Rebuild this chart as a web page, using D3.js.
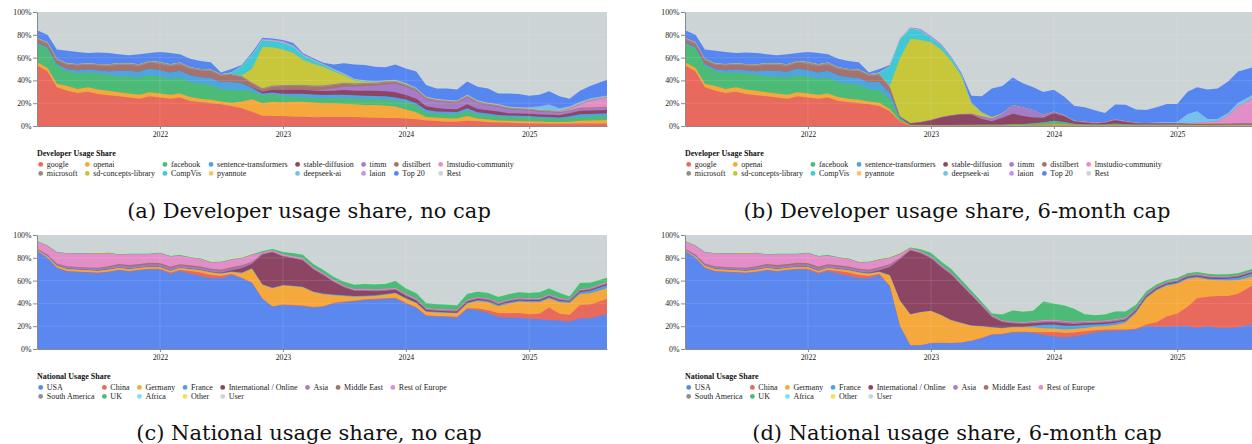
<!DOCTYPE html>
<html>
<head>
<meta charset="utf-8">
<script src="https://cdn.jsdelivr.net/npm/d3@7"></script>
<style>
  body { margin: 0; background: #fff; overflow: hidden; }
  svg { display: block; }
</style>
</head>
<body>
<svg id="fig"></svg>
<script>
const W = 1252, H = 444;
const plotW = 570, plotH = 114;

// monthly points, Jan 2021 .. Jul 2025, plus the last (partial) month
const months = d3.timeMonth.range(new Date(2021, 0, 1), new Date(2025, 7, 1));
months.push(new Date(2025, 7, 20));

const yearTicks = [2022, 2023, 2024, 2025];
const pctTicks = [0, 20, 40, 60, 80, 100];

// ---- developer series ----
const devKeys = ['google', 'openai', 'facebook', 'sentence-transformers', 'stable-diffusion', 'timm',
  'distilbert', 'lmstudio-community', 'microsoft', 'sd-concepts-library', 'CompVis', 'pyannote',
  'deepseek-ai', 'laion', 'Top 20'];
const devColors = ['#e8695e', '#f5a83c', '#4dbb78', '#4fa3df', '#8c4563', '#a57cc9',
  '#a5736b', '#e48ec9', '#8f8f8f', '#c8c73c', '#40c8d6', '#f6c46c',
  '#74c0ee', '#c990f2', '#5686ef'];
const devRest = 'Rest', restColor = '#cdd4d6';

// (a) developer usage share, no cap (percent)
const aGoogle = [53,48,34,31,29,30,28,27,26,25, 24,26,25,24,25,22,21,20,19,17.5, 15.5,12.5,9,8.8,8.8,8.2,8.2,7.6,8,8, 8,7.8,7.5,7.2,7,7,6.5,6,4.8,4.3, 3.8,3.8,4.5,4.2,3.3,3,2.8,2.5,2.3,2.2, 2,2,2,2.3,2.3,2.3];
const aOpenai = [3,3,3,4,3.5,4,4,4,3.5,3.5, 3.5,3.5,3.5,3.5,3.5,3.5,3,3,2.5,3, 6,11,11,12.5,12,13,13,13,12,11.9, 11.5,11.2,11,11.2,11,10,8,6,3.2,2.9, 2.9,2.7,4.3,2.3,2.5,1.8,1.7,1.8,1.8,1.7, 1.6,1.5,1.8,2.2,2.5,3];
const aFacebook = [16,17,16,13,14,13,14,14,14,15, 15,15,15,14,14,13,13,13,11,11, 10,7,7,6.5,5.5,4.5,4,4,4.2,4.5, 5,5,5,5,5,5,6.5,6,4,3.5, 3.8,3.8,4.5,3.5,3.5,3.5,3.3,3.3,3.3,3, 3,2.8,3,3.5,3.5,3.5];
const aSentence = [1,1,1.5,2,2.5,2.5,3,3,5,5, 5,6,5.5,5.5,6,6,6,6,6,7, 6,3,1.5,1.5,2,2.5,3,3,3,3, 3,3,3,3,3,3,2.3,2,2.3,2, 2,2,2.2,2,1.6,1.4,1.4,1.4,1.3,1.2, 1.2,1.2,1.8,2.3,2.3,2.3];
const aStable = [0,0,0,0,0,0,0,0,0,0, 0,0,0,0,0,0,0,0,0,0, .2,.5,1.5,2.5,3.5,3.5,3.5,3.5,3.5,3.5, 4,4,4.5,4.5,4.5,4.5,4,4,3,3, 2.5,2.5,3.5,3,3,3,2,2,2,2, 2,2,2.5,3,3,3];
const aTimm = [.2,.2,.2,.2,.2,.2,.2,.2,.2,.2, .2,.2,.2,.2,.2,.2,.2,.2,.2,.2, .2,.2,.2,.2,.2,.3,.4,.5,1,2, 3,3.5,4,4.5,6,7.5,7,6.5,6,5.5, 5.5,5,6,5,4,4,3.5,3,3,2.5, 2.5,2,2,2,2,2];
const aDistilbert = [3,3,3,3.5,4,4,4,4.5,5,5, 5,5,5.5,5.5,5.5,5.5,5.5,6,5.5,6, 5,3,2,2.5,3,3,3,3,3,3, 2.5,2,1.8,1.5,1.5,1.3,1.2,1,.8,.8, .8,.8,.8,.8,.8,.8,.7,.7,.7,.6, .6,.6,.6,.6,.6,.6];
const aLmstudio = [0,0,0,0,0,0,0,0,0,0, 0,0,0,0,0,0,0,0,0,0, 0,0,0,0,0,0,0,0,0,0, 0,0,0,0,0,0,0,0,0,0, 0,0,0,0,0,0,0,0,0,0, 0,.3,1,3,6,8];
const aMicrosoft = [1,1,1,1,1,1,1,1.2,1.2,1.2, 1.2,1.2,1.2,1.2,1.2,1.2,1.2,1.2,1,1, 1,1,1,1,1,1,1,1,1,1, 1,1,1,1,1,1,1,1,.8,.8, .8,.8,.8,.8,.8,.7,.7,.7,.6,.6, .6,.6,.6,.6,.6,.6];
const aSdConcepts = [0,0,0,0,0,0,0,0,0,0, 0,0,0,0,0,0,0,0,0,0, .5,12,36,33.5,31,28,22,19,16,11, 6.5,2.5,1,.3,0,0,0,0,0,0, 0,0,0,0,0,0,0,0,0,0, 0,0,0,0,0,0];
const aCompVis = [0,0,0,0,0,0,0,0,0,0, 0,0,0,0,0,0,0,0,0,1, 8,12,6,5.5,6,5.5,4,3,2,1.5, 1,.8,.6,.5,.5,.5,.5,.3,.3,.3, .3,.3,.3,.3,.3,.3,.3,.3,.3,.3, .3,.3,.3,.3,.3,.3];
const aPyannote = [.2,.2,.2,.2,.2,.2,.2,.2,.2,.2, .2,.2,.2,.2,.2,.2,.2,.2,.2,.2, .2,.2,.2,.2,.2,.2,.2,.2,.2,.2, .2,.2,.2,.2,.2,.2,.2,.2,.2,.2, .2,.2,.2,.2,.2,.2,.2,.2,.2,.2, .2,.2,.2,.2,.2,.2];
const aDeepseek = [0,0,0,0,0,0,0,0,0,0, 0,0,0,0,0,0,0,0,0,0, 0,0,0,0,0,0,0,0,0,0, 0,0,0,0,0,0,0,0,0,0, 0,0,0,0,0,0,0,0,.5,2.5, 4.5,1.5,1,.8,.5,.5];
const aLaion = [0,0,0,0,0,0,0,0,0,0, 0,0,0,0,0,0,0,0,0,0, 0,.5,1,1,1.2,1,.8,.6,.5,.5, .5,.5,.5,.5,.5,.5,.5,.5,.5,.5, .5,.5,.5,.5,.5,.5,.5,.5,.5,.5, .5,.5,.5,.5,.5,.5];
const aTop20 = [6.6,6.6,8.1,11.1,10.6,9.1,10.1,9.9,7.9,6.9, 8.9,6.9,8.9,9.9,7.4,7.4,6.9,6.4,1.6,3.1, 1,1.5,1,1,1,2,1,1,1,3.9, 8.8,12.5,13.4,12.6,11.3,13.5,12.8,14.3,10.1,9.2, 9.9,9.6,11.4,11.9,12.5,9.3,11.4,11.6,10,10.2, 11.5,10.5,6.7,9.7,10.7,13.7];

// (b) developer usage share, 6-month cap -- same as (a) until Aug 2022
const bGoogle = [...aGoogle.slice(0, 20), 13,4,.3,.3,.3,.3,.3,.3,.3,.3, .3,.3,.3,.3,.4,.5,.5,.5,.4,.4, .3,.3,.4,.3,.3,.3,.3,.3,.3,.3, .3,.3,.3,.3,.3,.3];
const bOpenai = [...aOpenai.slice(0, 20), 2,.5,.3,.2,.2,.2,.2,.2,.2,.2, .2,.2,.3,.3,.4,.5,.8,.8,.5,.4, .3,.3,.4,.3,.3,.3,.3,.3,.3,.3, .3,.3,.3,.4,.5,.5];
const bFacebook = [...aFacebook.slice(0, 20), 9,2,.3,.3,.2,.2,.2,.3,.3,.5, .5,.5,1,1,1.5,2,3,2,.8,.6, .5,.5,1,.8,.6,.5,.5,.5,.5,.4, .4,.4,.4,.4,.4,.4];
const bSentence = [...aSentence.slice(0, 20), 5,.8,.2,.2,.2,.2,.2,.2,.2,.2, .2,.2,.2,.2,.2,.3,.3,.3,.2,.2, .2,.2,.3,.2,.2,.2,.2,.2,.2,.2, .2,.2,.2,.2,.2,.2];
const bStable = [...aStable.slice(0, 20), 0,.3,1,2,4,6.5,8,9,9,5, 3,6,9,7,5,4,6.5,5,2,1.5, 1,1.5,3,2,1,.8,1,1,.8,.5, .5,.5,.5,.5,.5,.5];
const bTimm = [...aTimm.slice(0, 20), .2,.2,.2,.2,.2,.2,.3,.3,.5,2, 2,3,7,7,6,2,1,.5,.3,.3, .2,.3,.5,.3,.2,.2,.2,.2,.2,.2, .2,.2,.2,.2,.2,.2];
const bDistilbert = [...aDistilbert.slice(0, 20), 4.5,.5,.2,.2,.2,.2,.2,.2,.2,.2, .2,.2,.2,.2,.2,.2,.2,.2,.2,.2, .1,.1,.1,.1,.1,.1,.1,.1,.1,.1, .1,.1,.1,.1,.1,.1];
const bLmstudio = [...aLmstudio.slice(0, 20), 0,0,0,0,0,0,0,0,0,0, 0,0,0,0,0,0,0,0,0,0, 0,0,0,0,0,0,0,0,0,.3, .8,1.5,2,7,15,23];
const bMicrosoft = [...aMicrosoft.slice(0, 20), 1,.2,.1,.1,.1,.1,.1,.1,.1,.1, .1,.1,.1,.1,.1,.1,.1,.1,.1,.1, .1,.1,.1,.1,.1,.1,.1,.1,.1,.1, .1,.1,.1,.1,.1,.1];
const bSdConcepts = [...aSdConcepts.slice(0, 20), .5,51,74,72,68,59,48,33,9,3, 1,.2,0,0,0,0,0,0,0,0, 0,0,0,0,0,0,0,0,0,0, 0,0,0,0,0,0];
const bCompVis = [...aCompVis.slice(0, 20), 17,16,9,8,4,3.5,2.5,1.5,.5,.3, .2,.2,.2,.1,.1,.1,.1,0,0,0, 0,0,0,0,0,0,0,0,0,0, 0,0,0,0,0,0];
const bPyannote = [...aPyannote.slice(0, 20), .2,.1,.1,.1,.1,.1,.1,.1,0,0, 0,0,0,0,0,0,0,0,0,0, 0,0,0,0,0,0,0,0,0,0, 0,0,0,0,0,0];
const bDeepseek = [...aDeepseek.slice(0, 20), 0,0,0,0,0,0,0,0,0,0, 0,0,0,0,0,0,0,0,0,0, 0,0,0,0,0,0,.3,.5,1,8, 10,2.5,2,2,3,3];
const bLaion = [...aLaion.slice(0, 20), 0,.3,.5,1,1,.8,.5,.3,.2,.2, .2,.2,.2,.2,.2,.2,.2,.2,.2,.2, .1,.1,.1,.1,.1,.1,.1,.1,.1,.1, .1,.1,.1,.1,.1,.1];
const bTop20 = [...aTop20.slice(0, 20), 1,.5,.3,.4,.5,.5,.5,1.5,6,14, 25,24,24,21,20,20,19,16,13,12.5, 11,8,13,14.5,11.5,11.5,13.3,16,15.7,19.5, 21,25.8,26.8,27.7,27.3,23.6];

// ---- national series ----
const natKeys = ['USA', 'China', 'Germany', 'France', 'International / Online', 'Asia', 'Middle East',
  'Rest of Europe', 'South America', 'UK', 'Africa', 'Other'];
const natColors = ['#5b88ee', '#e8695e', '#f5a83c', '#4fa3df', '#8c4563', '#a57cc9', '#a5736b',
  '#e48ec9', '#8f8f8f', '#4dbb78', '#7ee3f3', '#f2e25a'];
const natRest = 'User';

// (c) national usage share, no cap
const cUSA = [86,80,71,68,67.5,67,66.5,67.5,69,68, 69,70,69.5,66,68.5,66,64,62,62,65, 62,58,44,37,38.6,38,37.5,36.3,37,40, 41,41.8,43,43.5,44,44.4,40,36,29,28.4, 28.2,27.5,35,34,31.5,28,27.5,27.5,26.5,26, 25.4,25,24,27,27,30.4];
const cChina = [.2,.3,.5,.5,.5,.5,.5,.5,.5,.5, .5,.5,.8,1,1,2.5,3,3,2,1, .5,.3,.3,.3,.5,.5,.6,.6,.6,.6, .6,.6,.6,.6,.6,.6,.6,.6,.6,.6, .6,.8,.8,1.5,2.5,3.5,3.8,4,4,5, 11,6,5.8,11.5,12,13.5];
const cGermany = [.8,1,1.5,1.5,1.5,1.5,1.5,1.5,1.5,1.5, 1.5,1.5,1.5,1.5,1.5,1.5,2,2,2,1.5, 4,12,12,16,16.5,16.5,16,13,10.5,6.5, 5,3.5,2.5,2.5,3,3.8,3.5,3.5,3,3, 2.8,3,4,6.5,7,6,8.5,10,10.5,10, 8,10,10.6,9.8,10,9.3];
const cFrance = [.2,.3,.4,.4,.4,.4,.4,.4,.4,.4, .4,.4,.4,.4,.4,.5,.5,.5,.5,.5, .5,.5,.5,.5,.5,.5,.6,.6,.6,.6, .6,.6,.6,.6,.6,.6,.6,.6,.6,.6, .6,.6,.8,1,1,1,1,1,1,1, 1,1,1,1.5,2,3];
const cIntl = [.2,.2,.2,.2,.2,.2,.2,.2,.2,.2, .2,.2,.2,.2,.2,.2,.2,.2,.3,1, 4,4,26,31,25,24,23,19.5,16,11, 7,4.5,4.5,3.5,3,2.5,2,1.8,1.3,1, 1,1,1,1,1,1,1,1,1,1, 1,1,.8,1,1,1];
const cAsia = [.3,.8,1,1.2,1.2,1.2,1.3,1.5,1.5,1.5, 1.5,1.5,1.5,1.5,1.5,1.5,1.5,1.5,1.5,1.5, 1.5,1,.5,.5,.5,.5,.5,.5,.5,.5, .5,.5,.5,.5,.5,.5,.5,.5,.5,.5, .5,.5,.5,.5,.5,.5,.5,.5,.5,.5, .5,.5,.4,.5,.5,.5];
const cMidEast = [.2,.3,.5,.7,.7,.8,.8,1,1.5,1.5, 1.5,1.5,1.5,1.5,1.3,1.3,1.2,1.2,1.2,1.2, 1,.7,.3,.3,.3,.3,.3,.3,.3,.3, .3,.3,.3,.3,.3,.3,.3,.3,.3,.3, .3,.3,.3,.3,.3,.3,.3,.3,.3,.3, .3,.3,.3,.3,.3,.3];
const cRestEurope = [6.5,7.4,9.6,11.2,11.5,12,12.5,11.5,8,9.5, 8.5,7.6,8.6,9,7.5,6.5,6.5,5.5,6.5,6.5, 6,6,1,1,1,1,1,1,1,1, .8,.8,.8,.8,.8,.8,.8,.8,.7,.7, .7,.7,.7,.7,.7,.7,.7,.7,.7,.7, .7,.7,.5,.7,.7,.7];
const cSouthAm = [.1,.2,.2,.2,.2,.2,.2,.2,.2,.2, .2,.2,.2,.2,.2,.2,.2,.2,.2,.2, .2,.2,.2,.2,.2,.2,.2,.2,.2,.2, .2,.2,.2,.2,.2,.2,.2,.2,.2,.2, .2,.2,.2,.2,.2,.2,.2,.2,.2,.2, .2,.2,.2,.2,.2,.2];
const cUK = [.2,.2,.2,.2,.2,.2,.2,.2,.2,.2, .2,.2,.2,.3,.3,.3,.3,.3,.3,.3, .3,.3,1,1,2,2.5,3,2.5,2.5,2.5, 3,3.5,4,4,4,6,4.5,4.5,4,4, 4,3.5,5,4.5,4.5,4.5,4.5,4.5,4.5,5, 5,4.5,2.5,5.5,4.5,3.5];
const cAfrica = [.1,.1,.1,.2,.2,.2,.2,.2,.2,.2, .2,.2,.2,.2,.2,.2,.2,.2,.2,.3, .3,.3,.3,.3,.3,.3,.3,.3,.3,.3, .3,.3,.3,.3,.3,.3,.3,.3,.3,.3, .3,.3,.3,.3,.3,.3,.3,.3,.3,.3, .3,.3,.2,.3,.3,.3];
const cOther = [.2,.2,.2,.2,.2,.3,.5,.3,.2,.2, .2,.2,.2,.2,.2,.2,.2,.2,.2,.5, .5,.5,.3,.3,.2,.2,.2,.2,.2,.2, .2,.2,.2,.2,.2,.2,.2,.2,.2,.2, .2,.2,.2,.2,.2,.2,.2,.2,.2,.2, .2,.2,.2,.2,.2,.2];

// (d) national usage share, 6-month cap -- same as (c) until Aug 2022
const dUSA = [...cUSA.slice(0, 20), 55,20,3,3,5,5.2,5,5.5,7,9.5, 12.5,13,14.5,14.6,14.2,12.3,11,10,11,12.5, 14.5,15.5,16,16.4,17,20,19.5,19.5,20,20, 18.5,19.9,18.4,18.4,19,22];
const dChina = [...cChina.slice(0, 20), .5,.3,.2,.2,.3,.3,.3,.3,.3,.3, .3,.3,.5,.5,.8,2.5,4,4,3.5,3, 2,1.5,1,.8,.8,1.5,4,9,11,17, 26,26,28,28,29.5,35];
const dGermany = [...cGermany.slice(0, 20), 9,22,27,29,28,24,20,17,13,10, 6,5,4,4,4,3.5,3,3,3,3, 3,3,4,6,14,23,28,27,26.2,24.5, 18,15,14,13.7,12,7];
const dFrance = [...cFrance.slice(0, 20), .5,.5,.3,.3,.3,.3,.3,.3,.3,.3, .3,.3,.5,.5,1.5,3,3.5,3.5,3,2.5, 2,2,2,1.5,1,1,1,1,1,1, 1,1,1,1.5,2,3];
const dIntl = [...cIntl.slice(0, 20), 7,36,56,51.5,46,42,40,33,26.5,17.5, 9,5,3,2.5,2,2,2,2,1.5,1.5, 1.2,1.2,1.2,1.2,1.2,1,1,1,1,1, 1,1,1,1,1,1];
const dAsia = [...cAsia.slice(0, 20), 1.3,.8,.5,.5,.5,.5,.5,.5,.5,.5, .5,.5,.5,.5,.8,1,1,1,1,.8, .8,.8,.8,.8,.7,.5,.5,.5,.5,.5, .5,.5,.5,.5,.5,.5];
const dMidEast = [...cMidEast.slice(0, 20), 1,.5,.3,.3,.3,.3,.3,.3,.3,.3, .3,.3,.3,.3,.3,.3,.3,.3,.3,.3, .3,.3,.3,.3,.3,.3,.3,.3,.3,.3, .3,.3,.3,.3,.3,.3];
const dRestEurope = [...cRestEurope.slice(0, 20), 5.5,3,1,1,.8,.8,.7,.7,.6,.6, .6,.6,.6,.6,.8,.8,.8,.8,.7,.7, .7,.7,.7,.7,.6,.5,.5,.5,.5,.5, .5,.5,.5,.5,.5,.5];
const dSouthAm = [...cSouthAm];
const dUK = [...cUK.slice(0, 20), .3,.5,.5,1.5,3,3,3,3,2.5,2, 1.5,5,9.7,9,9,16,14,13.4,11,6, 5,5,6.7,5,3,2.5,1.5,1.5,1.5,1.5, 1.5,1.5,1.5,1.5,1.5,1.5];
const dAfrica = [...cAfrica.slice(0, 20), .3,.3,.3,.3,.3,.3,.3,.3,.2,.2, .2,.2,.2,.2,.2,.2,.2,.2,.2,.2, .2,.2,.2,.2,.2,.2,.2,.2,.2,.2, .2,.2,.2,.2,.2,.2];
const dOther = [...cOther.slice(0, 20), .5,.5,.3,.3,.2,.2,.2,.2,.2,.2, .2,.2,.2,.2,.2,.2,.2,.2,.2,.2, .2,.2,.2,.2,.2,.2,.2,.2,.2,.2, .2,.2,.2,.2,.2,.2];

const panelA = [aGoogle, aOpenai, aFacebook, aSentence, aStable, aTimm, aDistilbert, aLmstudio, aMicrosoft, aSdConcepts, aCompVis, aPyannote, aDeepseek, aLaion, aTop20];
const panelB = [bGoogle, bOpenai, bFacebook, bSentence, bStable, bTimm, bDistilbert, bLmstudio, bMicrosoft, bSdConcepts, bCompVis, bPyannote, bDeepseek, bLaion, bTop20];
const panelC = [cUSA, cChina, cGermany, cFrance, cIntl, cAsia, cMidEast, cRestEurope, cSouthAm, cUK, cAfrica, cOther];
const panelD = [dUSA, dChina, dGermany, dFrance, dIntl, dAsia, dMidEast, dRestEurope, dSouthAm, dUK, dAfrica, dOther];

const svg = d3.select('#fig')
  .attr('width', W)
  .attr('height', H)
  .attr('viewBox', `0 0 ${W} ${H}`);

const smallFont = 'Liberation Serif, Times New Roman, serif';

function drawPanel(left, top, keys, colors, series, restKey) {
  const x = d3.scaleTime()
    .domain([months[0], months[months.length - 1]])
    .range([left, left + plotW]);
  const y = d3.scaleLinear().domain([0, 100]).range([top + plotH, top]);

  const rows = months.map((d, i) => {
    const row = { date: d };
    let sum = 0;
    keys.forEach((k, j) => { row[k] = series[j][i]; sum += series[j][i]; });
    row[restKey] = Math.max(0, 100 - sum);
    return row;
  });
  const allKeys = keys.concat([restKey]);
  const colorOf = d3.scaleOrdinal().domain(allKeys).range(colors.concat([restColor]));
  const stacked = d3.stack().keys(allKeys)(rows);

  // draw from the top layer down, each filled to the baseline, so no seams show
  const area = d3.area()
    .x(d => x(d.data.date))
    .y0(y(0))
    .y1(d => y(d[1]));

  const g = svg.append('g');
  g.selectAll('path.layer')
    .data(stacked.slice().reverse())
    .join('path')
    .attr('class', 'layer')
    .attr('d', area)
    .attr('fill', d => colorOf(d.key));

  // faint grid over the areas
  const grid = g.append('g').attr('stroke', '#ffffff').attr('stroke-opacity', 0.15).attr('stroke-width', 0.8);
  grid.selectAll('line.h').data(pctTicks.slice(1)).join('line')
    .attr('x1', left).attr('x2', left + plotW)
    .attr('y1', d => y(d)).attr('y2', d => y(d));
  grid.selectAll('line.v').data(yearTicks).join('line')
    .attr('x1', d => x(new Date(d, 0, 1))).attr('x2', d => x(new Date(d, 0, 1)))
    .attr('y1', top).attr('y2', top + plotH);

  // axes
  const xAxis = d3.axisBottom(x)
    .tickValues(yearTicks.map(yr => new Date(yr, 0, 1)))
    .tickFormat(d3.timeFormat('%Y'))
    .tickSize(3)
    .tickSizeOuter(0)
    .tickPadding(2);
  const yAxis = d3.axisLeft(y)
    .tickValues(pctTicks)
    .tickFormat(d => d + '%')
    .tickSize(4)
    .tickSizeOuter(0)
    .tickPadding(1.5);

  const gx = svg.append('g').attr('transform', `translate(0,${top + plotH})`).call(xAxis);
  const gy = svg.append('g').attr('transform', `translate(${left},0)`).call(yAxis);
  [gx, gy].forEach(ax => {
    ax.select('.domain').attr('stroke', '#8a8a8a');
    ax.selectAll('.tick line').attr('stroke', '#8a8a8a');
    ax.selectAll('.tick text')
      .attr('fill', '#222')
      .style('font-family', smallFont)
      .style('font-size', '7.8px');
  });
}

function drawLegend(left, top, title, keys, colors) {
  const cols = 8;
  const g = svg.append('g')
    .style('font-family', smallFont)
    .style('font-size', '8px')
    .attr('fill', '#222');
  g.append('text')
    .attr('x', left)
    .attr('y', top)
    .attr('font-weight', 'bold')
    .attr('fill', '#111')
    .text(title);

  const items = g.selectAll('g.item')
    .data(keys)
    .join('g')
    .attr('class', 'item');
  items.append('circle')
    .attr('cx', 3.7)
    .attr('cy', -2.6)
    .attr('r', 2.4)
    .attr('fill', (d, i) => colors[i]);
  items.append('text')
    .attr('x', 9.7)
    .text(d => d);

  const widths = d3.range(cols).map(() => 0);
  items.select('text').each(function (d, i) {
    const c = i % cols;
    widths[c] = Math.max(widths[c], this.getComputedTextLength());
  });
  const colX = [left];
  for (let c = 1; c < cols; c++) colX[c] = colX[c - 1] + 9.7 + widths[c - 1] + 6.2;

  items.attr('transform', (d, i) =>
    `translate(${colX[i % cols]},${top + 11 + Math.floor(i / cols) * 9})`);
}

function caption(cx, baseline, txt) {
  svg.append('text')
    .attr('x', cx)
    .attr('y', baseline)
    .attr('text-anchor', 'middle')
    .style('font-family', 'DejaVu Serif, serif')
    .style('font-size', '21px')
    .attr('fill', '#111')
    .text(txt);
}

const leftX = 37, rightX = 685;
const topY = 12, botY = 235;

drawPanel(leftX, topY, devKeys, devColors, panelA, devRest);
drawPanel(rightX, topY, devKeys, devColors, panelB, devRest);
drawPanel(leftX, botY, natKeys, natColors, panelC, natRest);
drawPanel(rightX, botY, natKeys, natColors, panelD, natRest);

drawLegend(leftX, topY + plotH + 30, 'Developer Usage Share', devKeys.concat([devRest]), devColors.concat([restColor]));
drawLegend(rightX, topY + plotH + 30, 'Developer Usage Share', devKeys.concat([devRest]), devColors.concat([restColor]));
drawLegend(leftX, botY + plotH + 30, 'National Usage Share', natKeys.concat([natRest]), natColors.concat([restColor]));
drawLegend(rightX, botY + plotH + 30, 'National Usage Share', natKeys.concat([natRest]), natColors.concat([restColor]));

caption(309, 217.5, '(a) Developer usage share, no cap');
caption(957, 217.5, '(b) Developer usage share, 6-month cap');
caption(309, 440, '(c) National usage share, no cap');
caption(957, 440, '(d) National usage share, 6-month cap');
</script>
</body>
</html>
